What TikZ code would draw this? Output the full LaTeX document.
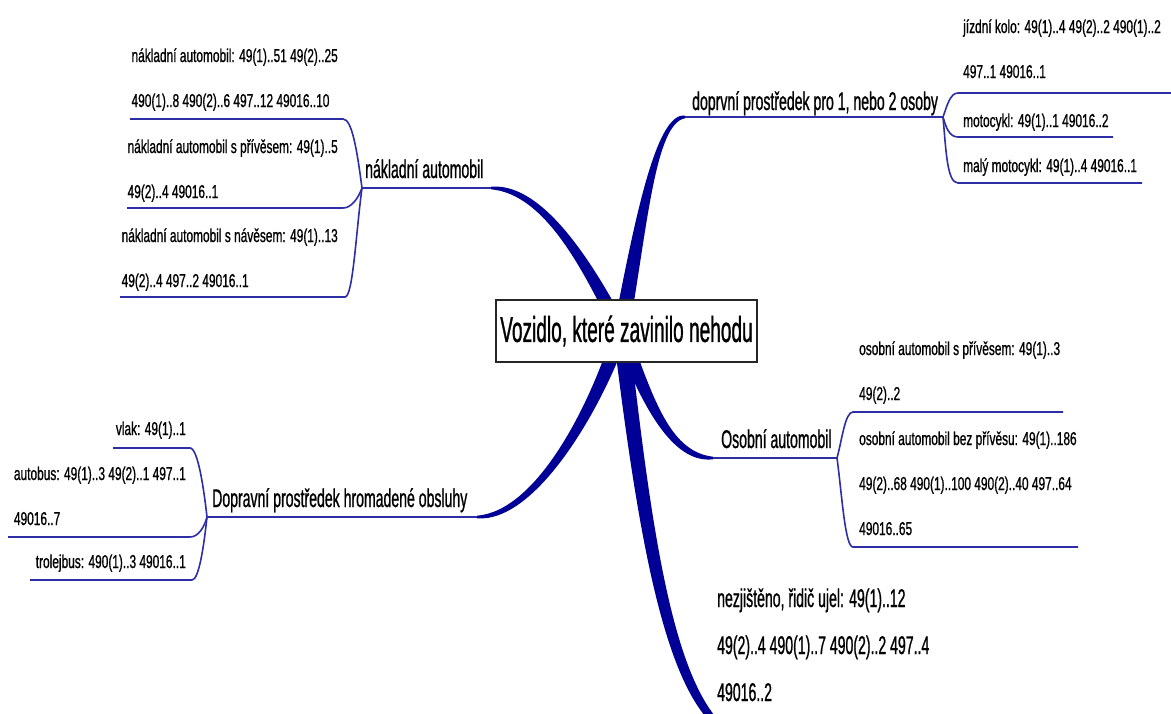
\documentclass[tikz,border=0pt]{standalone}
\usepackage{fontspec}
\setmainfont{Liberation Sans}
\newfontfamily\leaffont[FakeStretch=0.64,FakeBold=0.8]{Liberation Sans}
\newfontfamily\branchfont[FakeStretch=0.55,FakeBold=0.8]{Liberation Sans}
\newfontfamily\centerfont[FakeStretch=0.53,FakeBold=0.8]{Liberation Sans}
\usetikzlibrary{calc}
\definecolor{branchblue}{RGB}{0,0,150}
\definecolor{twigblue}{RGB}{45,45,165}
\newcommand\stack[1]{\begin{tabular}[t]{@{}l@{}}#1\end{tabular}}
% tapered main branch: #1 c1, #2 c2, #3 tip, #4 c2 offset, #5 tip offset
\newcommand\taper[5]{%
  \fill[branchblue] ($(hub)+(-8,0)$) .. controls ($(#1)+(-7,0)$) and ($(#2)+(#4)$) .. ($(#3)+(#5)$)
     -- ($(#3)-(#5)$) .. controls ($(#2)-(#4)$) and ($(#1)+(7,0)$) .. ($(hub)+(8,0)$) -- cycle;}
\tikzset{
  leaf/.style={inner sep=0pt, font={\leaffont\fontsize{18.6pt}{45pt}\selectfont}},
  branchlabel/.style={inner sep=0pt, font={\branchfont\fontsize{25.6pt}{47pt}\selectfont}},
  twig/.style={draw=twigblue, line width=1.6pt},
  stem/.style={draw=twigblue, line width=2pt},
  centre/.style={draw=black!85, line width=1.6pt, fill=white, inner sep=0pt,
    minimum width=261pt, minimum height=62pt, font={\centerfont\fontsize{36pt}{40pt}\selectfont}}
}
\begin{document}
\begin{tikzpicture}[x=1pt,y=-1pt]
\useasboundingbox (0,0) rectangle (1171,713);
\fill[white] (0,0) rectangle (1171,713);

% ---------- coordinates ----------
\coordinate (hub) at (621,331);
% tips of main branches
\coordinate (t1) at (685,117);
\coordinate (t2) at (491,188);
\coordinate (t3) at (713,458);
\coordinate (t4) at (477,517);
\coordinate (t5) at (710,716);
% control points
\coordinate (c11) at (640,230); \coordinate (c12) at (655,117);
\coordinate (c21) at (590,270); \coordinate (c22) at (545,188);
\coordinate (c31) at (648,405); \coordinate (c32) at (672,458);
\coordinate (c41) at (597,405); \coordinate (c42) at (537,517);
\coordinate (c51) at (643,520); \coordinate (c52) at (665,660);
% junctions
\coordinate (j1) at (943,117);
\coordinate (j2) at (362,188);
\coordinate (j3) at (837,458);
\coordinate (j4) at (207,517);

% ---------- main branches ----------
\taper{c11}{c12}{t1}{0,-6}{0,-1.3}
\taper{c21}{c22}{t2}{0,6}{0,1.3}
\taper{c31}{c32}{t3}{0,6}{0,1.3}
\taper{c41}{c42}{t4}{0,-6}{0,-1.3}
\taper{c51}{c52}{t5}{-5,4}{-3,2.4}

% ---------- central node ----------
\node[centre] (root) at (626.5,331) {Vozidlo, které zavinilo nehodu};

% ---------- branch labels ----------
\node[branchlabel, anchor=base west] (b1) at (692,110) {doprvní prostředek pro 1, nebo 2 osoby};
\node[branchlabel, anchor=base west] (b2) at (365,178) {nákladní automobil};
\node[branchlabel, anchor=base west] (b3) at (721,448) {Osobní automobil};
\node[branchlabel, anchor=base west] (b4) at (212,507) {Dopravní prostředek hromadené obsluhy};
\node[branchlabel, anchor=base west] (b5) at (717,607)
  {\stack{nezjištěno, řidič ujel: 49(1)..12\\49(2)..4 490(1)..7 490(2)..2 497..4\\49016..2}};

\draw[stem] (t1) -- (j1);
\draw[stem] (t2) -- (j2);
\draw[stem] (t3) -- (j3);
\draw[stem] (t4) -- (j4);

% ---------- doprvni prostredek leaves ----------
\node[leaf, anchor=base west] (l11) at (963,33) {\stack{jízdní kolo: 49(1)..4 49(2)..2 490(1)..2\\497..1 49016..1}};
\node[leaf, anchor=base west] (l12) at (963,127) {motocykl: 49(1)..1 49016..2};
\node[leaf, anchor=base west] (l13) at (963,172) {malý motocykl: 49(1)..4 49016..1};
\coordinate (e11) at (958,93);  \coordinate (f11) at (1171,93);
\coordinate (e12) at (958,137); \coordinate (f12) at (1113,137);
\coordinate (e13) at (958,183); \coordinate (f13) at (1142,183);
\draw[twig] (j1) .. controls (947,106) and (950,93) .. (e11) -- (f11);
\draw[twig] (j1) .. controls (946,127) and (949,137) .. (e12) -- (f12);
\draw[twig] (j1) .. controls (946,150) and (947,183) .. (e13) -- (f13);

% ---------- nakladni automobil leaves ----------
\node[leaf, anchor=base east] (l21) at (338,62) {\stack{nákladní automobil: 49(1)..51 49(2)..25\\490(1)..8 490(2)..6 497..12 49016..10}};
\node[leaf, anchor=base east] (l22) at (338,153) {\stack{nákladní automobil s přívěsem: 49(1)..5\\49(2)..4 49016..1}};
\node[leaf, anchor=base east] (l23) at (338,242) {\stack{nákladní automobil s návěsem: 49(1)..13\\49(2)..4 497..2 49016..1}};
\coordinate (e21) at (343,119); \coordinate (f21) at (130,119);
\coordinate (e22) at (343,208); \coordinate (f22) at (127,208);
\coordinate (e23) at (345,297); \coordinate (f23) at (120,297);
\draw[twig] (j2) .. controls (357,150) and (352,119) .. (e21) -- (f21);
\draw[twig] (j2) .. controls (358,199) and (351,208) .. (e22) -- (f22);
\draw[twig] (j2) .. controls (356,232) and (353,297) .. (e23) -- (f23);

% ---------- osobni automobil leaves ----------
\node[leaf, anchor=base west] (l31) at (859,355) {\stack{osobní automobil s přívěsem: 49(1)..3\\49(2)..2}};
\node[leaf, anchor=base west] (l32) at (859,445) {\stack{osobní automobil bez přívěsu: 49(1)..186\\49(2)..68 490(1)..100 490(2)..40 497..64\\49016..65}};
\coordinate (e31) at (853,412); \coordinate (f31) at (1063,412);
\coordinate (e32) at (853,547); \coordinate (f32) at (1078,547);
\draw[twig] (j3) .. controls (842,440) and (845,412) .. (e31) -- (f31);
\draw[twig] (j3) .. controls (842,495) and (845,547) .. (e32) -- (f32);

% ---------- hromadna doprava leaves ----------
\node[leaf, anchor=base east] (l41) at (186,435) {vlak: 49(1)..1};
\node[leaf, anchor=base east] (l42) at (186,480) {\stack{autobus: 49(1)..3 49(2)..1 497..1\\49016..7}};
\node[leaf, anchor=base east] (l43) at (186,568) {trolejbus: 490(1)..3 49016..1};
\coordinate (e41) at (190,448); \coordinate (f41) at (113,448);
\coordinate (e42) at (190,537); \coordinate (f42) at (8,537);
\coordinate (e43) at (192,580); \coordinate (f43) at (30,580);
\draw[twig] (j4) .. controls (204,490) and (198,448) .. (e41) -- (f41);
\draw[twig] (j4) .. controls (204,528) and (198,537) .. (e42) -- (f42);
\draw[twig] (j4) .. controls (204,545) and (199,580) .. (e43) -- (f43);
\end{tikzpicture}
\end{document}
